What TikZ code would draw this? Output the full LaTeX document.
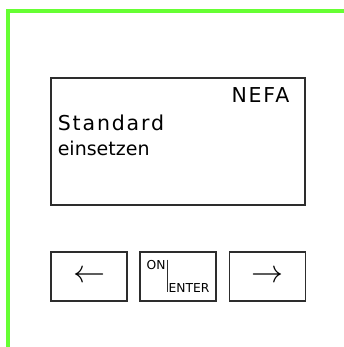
\documentclass[tikz,border=0pt]{standalone}
\usepackage{fontspec}
\setmainfont{DejaVu Sans}
\newfontfamily\spacedfont[LetterSpace=9]{DejaVu Sans}
\definecolor{framegreen}{RGB}{102,255,51}
\definecolor{boxgray}{RGB}{45,45,45}
\tikzset{
	keybox/.style={draw=boxgray, line width=1.6pt, minimum width=76pt, minimum height=49pt, inner sep=0pt},
	txt/.style={anchor=base west, inner sep=0pt}
}

\begin{document}
\begin{tikzpicture}[x=1pt, y=-1pt]
			%%%%% START %%%%%
			\useasboundingbox (0, 0) rectangle (344, 347);
			
			\draw[line width=3.4pt, color=framegreen] (344, 11) -- (8, 11) -- (8, 347);
			
			\node[draw=boxgray, line width=1.6pt, minimum width=254pt, minimum height=127pt, inner sep=0pt] (display) at (178, 141.5) {};
			\node[txt] (nefa) at (231.3, 102.7) {\fontsize{20.5}{24}\spacedfont NEFA};
			\node[txt] (standard) at (57.7, 130.7) {\fontsize{20.5}{24}\spacedfont Standard};
			\node[txt] (einsetzen) at (57.6, 156) {\fontsize{19}{24}\selectfont einsetzen};
			
			\node[keybox] (btnleft) at (89, 276.5) {};
			\node[keybox] (btnon) at (178, 276.5) {};
			\node[keybox] (btnright) at (267.3, 276.5) {};
			
			\node[scale=3.2, inner sep=0pt] (arrleft) at (btnleft) {$\leftarrow$};
			\node[scale=3.2, inner sep=0pt] (arrright) at (btnright) {$\rightarrow$};
			
			\node[txt] (on) at (146.5, 269) {\fontsize{12.3}{13}\selectfont ON};
			\node[txt] (enter) at (168.5, 292.3) {\fontsize{12.3}{13}\selectfont ENTER};
			\coordinate (bartop) at (167.3, 259.7);
			\coordinate (barbottom) at (167.3, 292);
			\draw[line width=1.4pt, color=boxgray] (bartop) -- (barbottom);
			
			%%%%% END %%%%%
		\end{tikzpicture}
\end{document}
